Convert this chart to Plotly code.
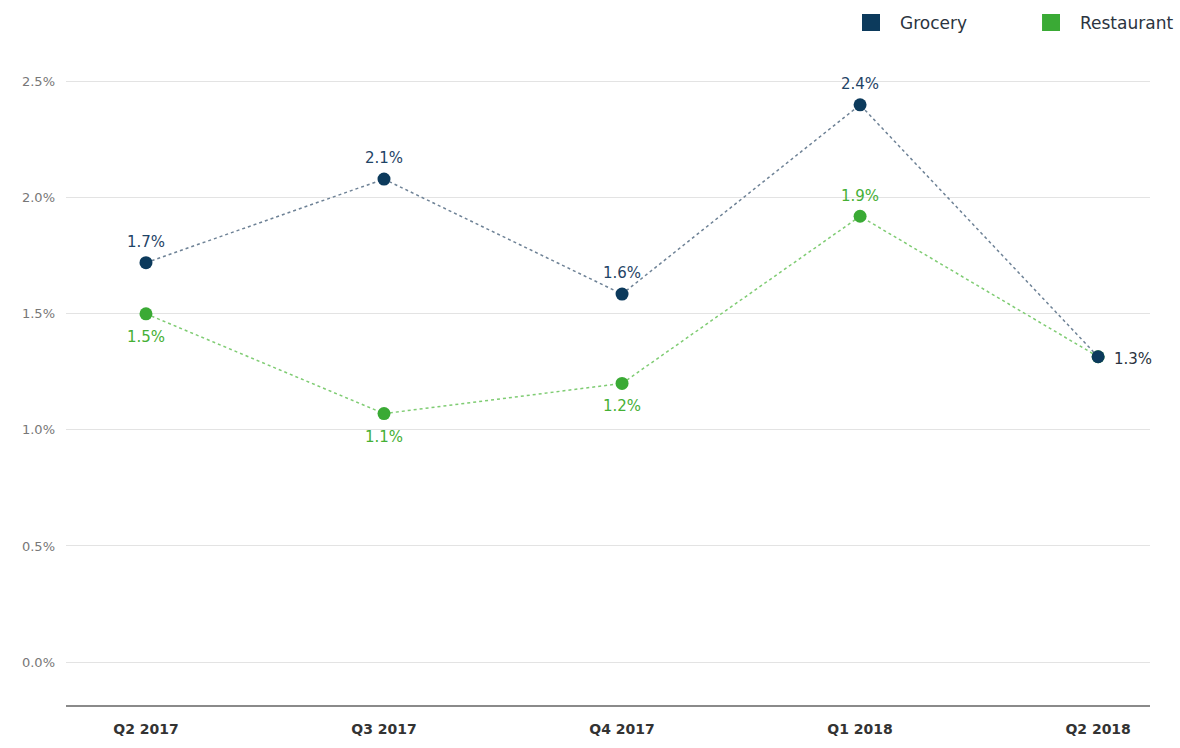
import plotly.graph_objects as go

quarters = ["Q2 2017", "Q3 2017", "Q4 2017", "Q1 2018", "Q2 2018"]
grocery = [1.72, 2.08, 1.585, 2.40, 1.315]
restaurant = [1.50, 1.07, 1.20, 1.92, 1.315]
grocery_labels = ["1.7%", "2.1%", "1.6%", "2.4%", "1.3%"]
restaurant_labels = ["1.5%", "1.1%", "1.2%", "1.9%", ""]
y_ticks = [0.0, 0.5, 1.0, 1.5, 2.0, 2.5]

NAVY = "#0c3a5c"
GREEN = "#3aaa35"
FONT = "DejaVu Sans"

fig = go.Figure()

fig.add_trace(go.Scatter(
    x=quarters, y=restaurant, name="Restaurant",
    mode="lines+markers",
    line=dict(color="#7fcc73", width=1.5, dash="dot"),
    marker=dict(color=GREEN, size=13),
    showlegend=False,
))
fig.add_trace(go.Scatter(
    x=quarters, y=grocery, name="Grocery",
    mode="lines+markers",
    line=dict(color="#6e8296", width=1.5, dash="dot"),
    marker=dict(color=NAVY, size=13),
    showlegend=False,
))

annotations = []
for i, (q, v, t) in enumerate(zip(quarters, grocery, grocery_labels)):
    if i < len(quarters) - 1:
        annotations.append(dict(x=q, y=v, text=t, showarrow=False, yshift=21,
                                font=dict(color="#1f4466", size=15, family=FONT)))
    else:
        annotations.append(dict(x=q, y=v, text=t, showarrow=False, xanchor="left",
                                xshift=14, yshift=-2,
                                font=dict(color="#2a3340", size=15, family=FONT)))
for i, (q, v, t) in enumerate(zip(quarters, restaurant, restaurant_labels)):
    if not t:
        continue
    shift = 20 if i == 3 else -23
    annotations.append(dict(x=q, y=v, text=t, showarrow=False, yshift=shift,
                            font=dict(color="#45b035", size=15, family=FONT)))

# legend (drawn as swatches + text)
legend_items = [("Grocery", NAVY, 0.7343), ("Restaurant", GREEN, 0.9004)]
shapes = []
for name, col, px in legend_items:
    shapes.append(dict(type="rect", xref="paper", yref="paper",
                       x0=px, x1=px + 0.0166, y0=1.0614, y1=1.0882,
                       fillcolor=col, line=dict(width=0)))
    annotations.append(dict(xref="paper", yref="paper", x=px + 0.0332, y=1.0748,
                            xanchor="left", yanchor="middle", text=name, showarrow=False,
                            font=dict(size=17, color="#2b3440", family=FONT)))

fig.update_layout(
    width=1180, height=748,
    margin=dict(l=66, r=30, t=70, b=43, autoexpand=False),
    paper_bgcolor="white", plot_bgcolor="white",
    font=dict(family=FONT),
    showlegend=False,
    annotations=annotations,
    shapes=shapes,
    xaxis=dict(
        type="category", range=[-0.336, 4.218], automargin=False,
        showgrid=False, zeroline=False,
        showline=True, linecolor="#8a8a8a", linewidth=2,
        ticks="", ticklabelstandoff=10,
        tickfont=dict(size=14, color="#333333", family=FONT, weight="bold"),
    ),
    yaxis=dict(
        range=[-0.185, 2.55], automargin=False,
        tickvals=y_ticks, ticktext=[f"{v:.1f}%" for v in y_ticks],
        showgrid=True, gridcolor="#e3e3e3", gridwidth=1,
        zeroline=False, showline=False, ticks="",
        ticklabelstandoff=10,
        tickfont=dict(size=13, color="#777777", family=FONT),
    ),
)

fig.write_html("out.html")
